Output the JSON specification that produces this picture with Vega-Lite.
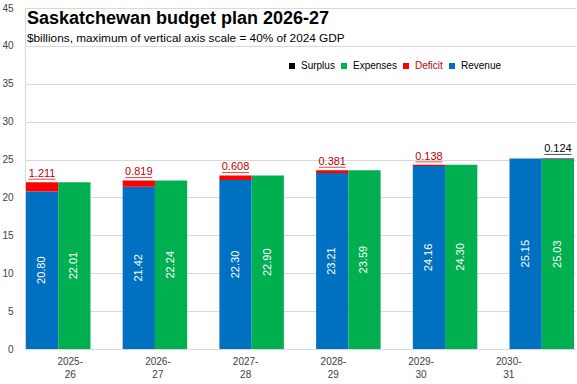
{
  "$schema": "https://vega.github.io/schema/vega-lite/v6.json",
  "width": 550,
  "height": 341,
  "autosize": {"type": "none"},
  "padding": {"left": 25, "top": 8, "right": 2, "bottom": 35},
  "background": "white",
  "config": {
    "view": {"stroke": null},
    "font": "Liberation Sans",
    "axisY": {
      "title": null,
      "tickCount": 9,
      "domainColor": "#d9d9d9",
      "ticks": false,
      "gridColor": "#d9d9d9",
      "labelFontSize": 10,
      "labelColor": "#404040",
      "labelPadding": 12
    }
  },
  "title": {
    "text": "Saskatchewan budget plan 2026-27",
    "subtitle": "$billions, maximum of vertical axis scale = 40% of 2024 GDP",
    "anchor": "start",
    "frame": "group",
    "offset": -42,
    "dx": 2,
    "font": "Liberation Sans",
    "fontSize": 18,
    "fontWeight": "bold",
    "color": "#000000",
    "subtitleFont": "Liberation Sans",
    "subtitleFontSize": 11.8,
    "subtitleColor": "#000000",
    "subtitlePadding": 5
  },
  "data": {
    "values": [
      {"year": "2025-26", "Revenue": 20.80, "Expenses": 22.01, "Deficit": 1.211, "Surplus": 0},
      {"year": "2026-27", "Revenue": 21.42, "Expenses": 22.24, "Deficit": 0.819, "Surplus": 0},
      {"year": "2027-28", "Revenue": 22.30, "Expenses": 22.90, "Deficit": 0.608, "Surplus": 0},
      {"year": "2028-29", "Revenue": 23.21, "Expenses": 23.59, "Deficit": 0.381, "Surplus": 0},
      {"year": "2029-30", "Revenue": 24.16, "Expenses": 24.30, "Deficit": 0.138, "Surplus": 0},
      {"year": "2030-31", "Revenue": 25.15, "Expenses": 25.03, "Deficit": 0, "Surplus": 0.124}
    ]
  },
  "encoding": {
    "x": {
      "field": "year",
      "type": "nominal",
      "sort": null,
      "scale": {"paddingInner": 0.333, "paddingOuter": 0.01},
      "axis": {
        "title": null,
        "labelAngle": 0,
        "domainColor": "#d9d9d9",
        "ticks": false,
        "grid": false,
        "labelExpr": "[slice(datum.label, 0, 5), slice(datum.label, 5)]",
        "labelFontSize": 10,
        "labelColor": "#404040",
        "labelPadding": 7,
        "labelLineHeight": 13,
        "labelOffset": {"expr": "12 - 9 * indexof(['2025-26','2026-27','2027-28','2028-29','2029-30','2030-31'], datum.value)"}
      }
    }
  },
  "layer": [
    {
      "transform": [{"fold": ["Revenue", "Expenses"], "as": ["series", "value"]}],
      "mark": {"type": "bar"},
      "encoding": {
        "xOffset": {"field": "series", "type": "nominal", "scale": {"domain": ["Revenue", "Expenses"], "paddingInner": 0, "paddingOuter": 0}},
        "y": {
          "field": "value",
          "type": "quantitative",
          "scale": {"domain": [0, 45], "nice": false},
          "title": null
        },
        "color": {
          "field": "series",
          "type": "nominal",
          "scale": {"domain": ["Surplus", "Expenses", "Deficit", "Revenue"], "range": ["#000000", "#00B050", "#FF0000", "#0070C0"]},
          "legend": {
            "orient": "none",
            "legendX": 262,
            "legendY": 53,
            "direction": "horizontal",
            "title": null,
            "symbolType": "square",
            "symbolSize": 36,
            "symbolStrokeWidth": 0,
            "labelFontSize": 10,
            "labelColor": "#000000",
            "columnPadding": 4,
            "labelOffset": 4,
            "encode": {
              "labels": {"update": {"fill": {"signal": "datum.label === 'Deficit' ? '#C00000' : '#000000'"}}}
            }
          }
        }
      }
    },
    {
      "transform": [{"filter": "datum.Deficit > 0"}],
      "mark": {"type": "bar"},
      "encoding": {
        "xOffset": {"datum": "Revenue", "type": "nominal"},
        "y": {"field": "Revenue", "type": "quantitative"},
        "y2": {"field": "Expenses"},
        "color": {"datum": "Deficit", "type": "nominal"}
      }
    },
    {
      "transform": [{"filter": "datum.Surplus > 0"}],
      "mark": {"type": "bar"},
      "encoding": {
        "xOffset": {"datum": "Expenses", "type": "nominal"},
        "y": {"field": "Expenses", "type": "quantitative"},
        "y2": {"field": "Revenue"},
        "color": {"datum": "Surplus", "type": "nominal"}
      }
    },
    {
      "transform": [{"filter": "datum.Deficit > 0"}],
      "mark": {"type": "text", "dy": -5, "baseline": "alphabetic", "fontSize": 11, "color": "#C00000"},
      "encoding": {
        "xOffset": {"datum": "Revenue", "type": "nominal"},
        "y": {"field": "Expenses", "type": "quantitative"},
        "text": {"field": "Deficit", "type": "quantitative", "format": ".3f"}
      }
    },
    {
      "transform": [{"filter": "datum.Deficit > 0"}],
      "mark": {"type": "tick", "orient": "horizontal", "size": 27, "thickness": 1, "yOffset": -3, "color": "#C00000"},
      "encoding": {
        "xOffset": {"datum": "Revenue", "type": "nominal"},
        "y": {"field": "Expenses", "type": "quantitative"}
      }
    },
    {
      "transform": [{"filter": "datum.Surplus > 0"}],
      "mark": {"type": "text", "dy": -6, "baseline": "alphabetic", "fontSize": 11, "color": "#000000"},
      "encoding": {
        "xOffset": {"datum": "Expenses", "type": "nominal"},
        "y": {"field": "Revenue", "type": "quantitative"},
        "text": {"field": "Surplus", "type": "quantitative", "format": ".3f"}
      }
    },
    {
      "transform": [{"filter": "datum.Surplus > 0"}],
      "mark": {"type": "tick", "orient": "horizontal", "size": 27, "thickness": 1, "yOffset": -4, "color": "#000000"},
      "encoding": {
        "xOffset": {"datum": "Expenses", "type": "nominal"},
        "y": {"field": "Revenue", "type": "quantitative"}
      }
    },
    {
      "transform": [
        {"fold": ["Revenue", "Expenses"], "as": ["series", "value"]},
        {"calculate": "datum.value / 2", "as": "mid"}
      ],
      "mark": {"type": "text", "angle": 270, "fontSize": 11, "color": "#FFFFFF", "baseline": "middle", "align": "center"},
      "encoding": {
        "xOffset": {"field": "series", "type": "nominal"},
        "y": {"field": "mid", "type": "quantitative"},
        "text": {"field": "value", "type": "quantitative", "format": ".2f"}
      }
    }
  ]
}
